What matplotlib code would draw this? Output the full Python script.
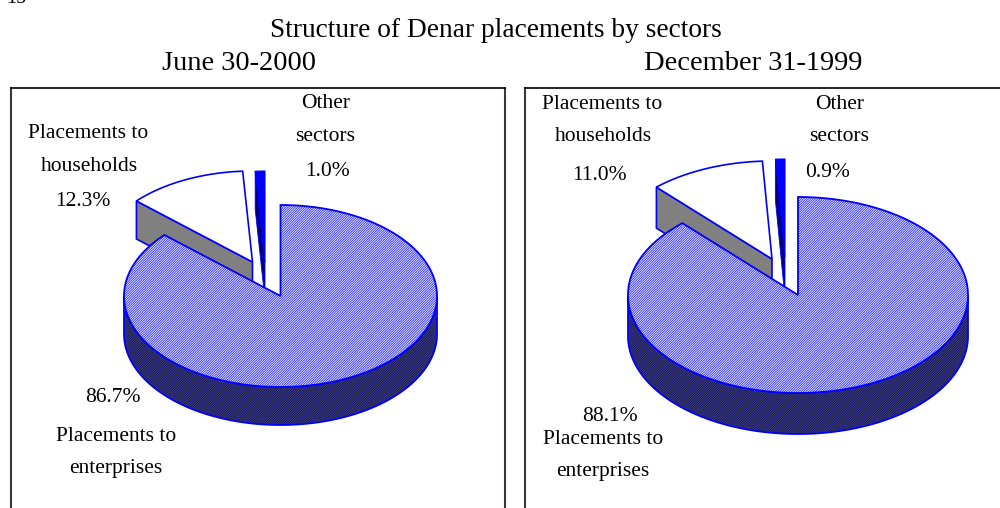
import numpy as np
import matplotlib
matplotlib.use("Agg")
import matplotlib.pyplot as plt
from matplotlib.patches import Polygon

plt.rcParams["font.family"] = ["Liberation Serif"]
plt.rcParams["hatch.linewidth"] = 0.7

# values in percent, clockwise from 12 o'clock
sectors = ["enterprises", "households", "other"]
june_2000 = [86.7, 12.3, 1.0]
dec_1999 = [88.1, 11.0, 0.9]

june_labels = ["86.7%", "12.3%", "1.0%"]
dec_labels = ["88.1%", "11.0%", "0.9%"]

BLUE = "#0000ff"
HATCH = "/" * 14


def arc(cx, cy, rx, ry, a0, a1, n=120):
    # angles in degrees, clockwise from the top
    t = np.radians(np.linspace(a0, a1, n))
    return np.column_stack([cx + rx * np.sin(t), cy - ry * np.cos(t)])


def hatched(ax, pts, face, stripe, z):
    # hatch takes the edge colour, so the blue outline goes on separately
    ax.add_patch(Polygon(pts, fc=face, ec=stripe, lw=0, hatch=HATCH, zorder=z))
    ax.add_patch(Polygon(pts, fc="none", ec=BLUE, lw=1.3, zorder=z))


def draw_pie(ax, values, cx, cy, rx, ry, depth, hh_shift, oth_shift):
    ang = np.cumsum([0] + values) / sum(values) * 360
    a_ent, a_hh, a_oth = ang[1], ang[2], ang[3]

    # households wedge, pulled out
    hx, hy = cx + hh_shift[0], cy + hh_shift[1]
    h_arc = arc(hx, hy, rx, ry, a_ent, a_hh)
    p0 = h_arc[0]
    side = [p0, p0 + [0, depth], [hx, hy + depth], [hx, hy]]
    ax.add_patch(Polygon(side, fc="#808080", ec=BLUE, lw=1.2, zorder=2))
    ax.add_patch(Polygon(np.vstack([[hx, hy], h_arc]), fc="white", ec=BLUE, lw=1.2, zorder=3))

    # other sectors wedge
    ox, oy = cx + oth_shift[0], cy + oth_shift[1]
    o_arc = arc(ox, oy, rx, ry, a_hh, a_oth, 10)
    ax.add_patch(Polygon(np.vstack([[ox, oy], o_arc]), fc=BLUE, ec=BLUE, lw=0.8, zorder=4))
    q0 = o_arc[0]
    oside = [q0, q0 + [0, depth], [ox, oy + depth], [ox, oy]]
    ax.add_patch(Polygon(oside, fc="#000080", ec=BLUE, lw=0.6, zorder=5))

    # enterprises, rim first then the top
    rim = arc(cx, cy, rx, ry, 90, 270, 200)
    rim_low = rim[::-1] + [0, depth]
    hatched(ax, np.vstack([rim, rim_low]), "#4a4a6a", "#141470", 6)
    top = arc(cx, cy, rx, ry, 0, a_ent, 300)
    hatched(ax, np.vstack([[cx, cy], top]), "#ffffff", "#3c3cff", 7)


fig = plt.figure(figsize=(10, 5.08), dpi=100)
ax = fig.add_axes([0, 0, 1, 1])
ax.set_xlim(0, 1000)
ax.set_ylim(508, 0)
ax.axis("off")

# panel frames, open at the bottom
for x0, x1 in [(10.5, 504.5), (524.5, 1002)]:
    ax.plot([x0, x0], [508, 87.5], color="#383838", lw=1.5, zorder=1)
    ax.plot([x1, x1], [508, 87.5], color="#383838", lw=1.5, zorder=1)
    ax.plot([x0, x1], [87.5, 87.5], color="black", lw=1.2, zorder=1)

draw_pie(ax, june_2000, 280.5, 296, 156.5, 91, 38, (-28, -34), (-15.5, -34))
draw_pie(ax, dec_1999, 798, 295, 170, 98, 41, (-26, -36), (-13, -38))

ax.text(6, 3, "15", fontsize=14.5, va="baseline", ha="left")
ax.text(495.5, 37, "Structure of Denar placements by sectors", fontsize=19.7, ha="center", va="baseline")
ax.text(239, 70.5, "June 30-2000", fontsize=20.5, ha="center", va="baseline")
ax.text(753, 70.5, "December 31-1999", fontsize=20.5, ha="center", va="baseline")

FS = 15.5


def label(x, y, s):
    ax.text(x, y, s, fontsize=FS, ha="center", va="baseline", zorder=10)


label(326, 108, "Other")
label(325, 141, "sectors")
label(328, 176, june_labels[2])
label(88.5, 138, "Placements to")
label(89, 171, "households")
label(82.5, 206, june_labels[1])
label(112.5, 402.5, june_labels[0])
label(116, 441, "Placements to")
label(116, 472.5, "enterprises")

label(840, 109, "Other")
label(839, 141, "sectors")
label(828, 177, dec_labels[2])
label(602.5, 109, "Placements to")
label(603, 141, "households")
label(599, 180, dec_labels[1])
label(610, 421, dec_labels[0])
label(603, 444, "Placements to")
label(603, 476, "enterprises")

fig.savefig("out.png", dpi=100)
